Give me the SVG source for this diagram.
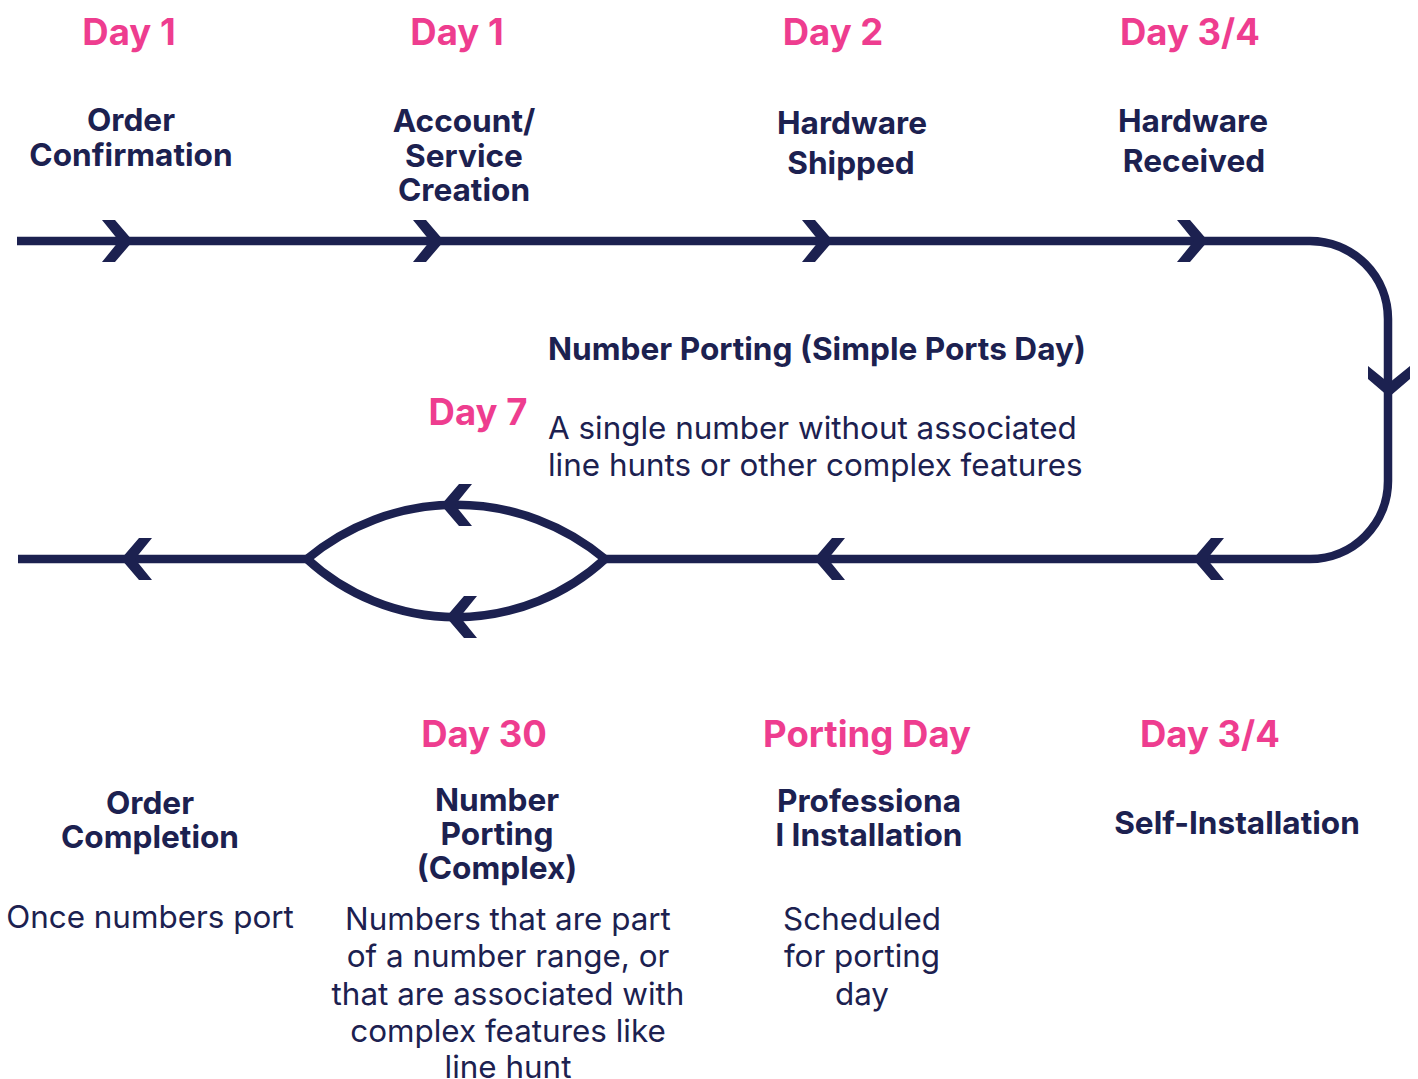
<svg xmlns="http://www.w3.org/2000/svg" width="1418" height="1079" viewBox="0 0 1418 1079">
<defs>
<style>
.day{font-family:Inter,"Liberation Sans",sans-serif;font-weight:700;font-size:36.5px;fill:#EE3D8F;text-anchor:middle}
.ttl{font-family:Inter,"Liberation Sans",sans-serif;font-weight:700;font-size:31.6px;fill:#1C2150;text-anchor:middle}
.desc{font-family:Inter,"Liberation Sans",sans-serif;font-weight:400;font-size:31.4px;fill:#1C2150;text-anchor:middle}
.ln{fill:none;stroke:#1C2150;stroke-width:8.5}
.chev{fill:#1C2150}
</style>
<polygon id="chev" points="-31,-21 -18,-21 0,0 -18,21 -31,21 -14,0"/>
</defs>
<rect width="1418" height="1079" fill="#ffffff"/>
<g id="connectors">
<path class="ln" d="M17,241 H1310 A78,78 0 0 1 1388,319 V481 A78,78 0 0 1 1310,559 H605"/>
<path class="ln" d="M605,559 A232,232 0 0 0 307,559"/>
<path class="ln" d="M605,559 A220,220 0 0 1 307,559"/>
<path class="ln" d="M307,559 H18"/>
<g class="chev">
<use href="#chev" transform="translate(133,241)"/>
<use href="#chev" transform="translate(444,241)"/>
<use href="#chev" transform="translate(833,241)"/>
<use href="#chev" transform="translate(1208,241)"/>
<use href="#chev" transform="translate(1389,397) rotate(90)"/>
<use href="#chev" transform="translate(1193,559) rotate(180)"/>
<use href="#chev" transform="translate(814,559) rotate(180)"/>
<use href="#chev" transform="translate(121,559) rotate(180)"/>
<use href="#chev" transform="translate(441,505) rotate(180)"/>
<use href="#chev" transform="translate(446,617) rotate(180)"/>
</g>
</g>
<g id="node-order-confirmation">
<text class="day" x="129" y="45">Day 1</text>
<text class="ttl" x="131" y="131">Order</text>
<text class="ttl" x="131" y="166">Confirmation</text>
</g>
<g id="node-account-service">
<text class="day" x="457" y="45">Day 1</text>
<text class="ttl" x="464" y="132">Account/</text>
<text class="ttl" x="464" y="167">Service</text>
<text class="ttl" x="464" y="201">Creation</text>
</g>
<g id="node-hardware-shipped">
<text class="day" x="833" y="45">Day 2</text>
<text class="ttl" x="852" y="134">Hardware</text>
<text class="ttl" x="851" y="174">Shipped</text>
</g>
<g id="node-hardware-received">
<text class="day" x="1190" y="45">Day 3/4</text>
<text class="ttl" x="1193" y="132">Hardware</text>
<text class="ttl" x="1194" y="172">Received</text>
</g>
<g id="node-number-porting-simple">
<text class="day" x="478" y="425">Day 7</text>
<text class="ttl" x="548" y="360" style="text-anchor:start">Number Porting (Simple Ports Day)</text>
<text class="desc" x="548" y="439" style="text-anchor:start">A single number without associated</text>
<text class="desc" x="548" y="476" style="text-anchor:start">line hunts or other complex features</text>
</g>
<g id="node-self-installation">
<text class="day" x="1210" y="747">Day 3/4</text>
<text class="ttl" x="1237" y="834">Self-Installation</text>
</g>
<g id="node-professional-installation">
<text class="day" x="867" y="747">Porting Day</text>
<text class="ttl" x="869" y="812">Professiona</text>
<text class="ttl" x="869" y="846">l Installation</text>
<text class="desc" x="862" y="930">Scheduled</text>
<text class="desc" x="862" y="967">for porting</text>
<text class="desc" x="862" y="1005">day</text>
</g>
<g id="node-number-porting-complex">
<text class="day" x="484" y="747">Day 30</text>
<text class="ttl" x="497" y="811">Number</text>
<text class="ttl" x="497" y="845">Porting</text>
<text class="ttl" x="497" y="879">(Complex)</text>
<text class="desc" x="508" y="930">Numbers that are part</text>
<text class="desc" x="508" y="967">of a number range, or</text>
<text class="desc" x="508" y="1005">that are associated with</text>
<text class="desc" x="508" y="1042">complex features like</text>
<text class="desc" x="508" y="1078">line hunt</text>
</g>
<g id="node-order-completion">
<text class="ttl" x="150" y="814">Order</text>
<text class="ttl" x="150" y="848">Completion</text>
<text class="desc" x="150" y="928">Once numbers port</text>
</g>
</svg>
